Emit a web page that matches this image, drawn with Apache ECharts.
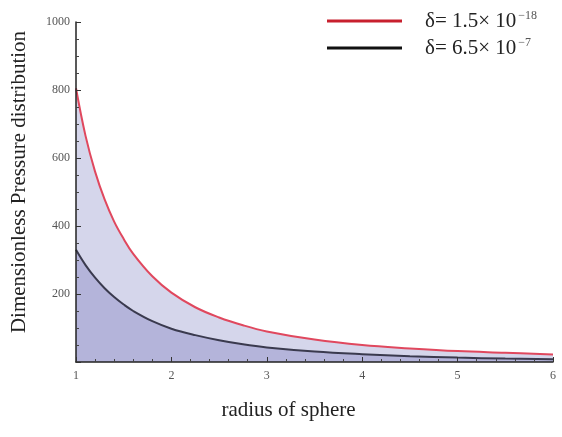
<!DOCTYPE html>
<html>
<head>
<meta charset="utf-8">
<script src="https://cdn.jsdelivr.net/npm/echarts@6/dist/echarts.min.js"></script>
<style>
  html, body { margin: 0; padding: 0; background: #fff; }
  #chart { width: 562px; height: 437px; }
</style>
</head>
<body>
<div id="chart"></div>
<script>
// Radius samples and dimensionless pressure for the two film thicknesses
const radius = [1, 1.1, 1.2, 1.3, 1.4, 1.5, 1.6, 1.8, 2.0, 2.25, 2.5, 2.75, 3, 3.5, 4, 4.5, 5, 5.5, 6];
const pressureSmall = [805, 665, 560, 478, 413, 362, 318, 252, 204, 161, 131, 108, 90, 66, 50, 40, 32, 27, 22];
const pressureLarge = [330, 285, 248, 217, 191, 169, 150, 120, 98, 79, 64, 52, 43, 31, 23, 17, 13, 10, 8];
const yTicks = [200, 400, 600, 800, 1000];
const seriesNames = ['small', 'large'];

const pairs = (xs, ys) => xs.map((x, i) => [x, ys[i]]);

const serif = '"Liberation Serif", "DejaVu Serif", serif';

// one legend box per curve so each row can be placed on its own
function legendBox(name, top, label, sup) {
  return {
    orient: 'vertical',
    left: 322,
    top: top,
    itemWidth: 75,
    itemHeight: 3,
    icon: 'rect',
    data: [name],
    formatter: () => '{t|' + label + '}{s|' + sup + '}',
    textStyle: {
      padding: [0, 0, 0, 18],
      rich: {
        t: { fontFamily: serif, fontSize: 21, color: '#222', lineHeight: 22 },
        s: { fontFamily: serif, fontSize: 12, color: '#555', verticalAlign: 'top', padding: [0, 0, 10, 2] }
      }
    }
  };
}

const chart = echarts.init(document.getElementById('chart'), null, { renderer: 'canvas' });

chart.setOption({
  animation: false,
  backgroundColor: '#ffffff',
  grid: { left: 76, right: 9, top: 22, bottom: 75, containLabel: false },
  legend: [
    legendBox(seriesNames[0], 5, 'δ= 1.5× 10', '−18'),
    legendBox(seriesNames[1], 32, 'δ= 6.5× 10', '−7')
  ],
  xAxis: {
    type: 'value',
    min: 1,
    max: 6,
    interval: 1,
    z: 10,
    name: 'radius of sphere',
    nameLocation: 'middle',
    nameGap: 38,
    nameTextStyle: { fontFamily: serif, fontSize: 21, color: '#222', padding: [0, 52, 0, 0] },
    axisLine: { show: true, onZero: false, lineStyle: { color: '#222', width: 1.5 } },
    axisTick: { show: true, inside: true, length: 5, lineStyle: { color: '#333' } },
    minorTick: { show: true, splitNumber: 5, length: 3, lineStyle: { color: '#444' } },
    splitLine: { show: false },
    axisLabel: { fontFamily: serif, fontSize: 12, color: '#555', margin: 8 }
  },
  yAxis: {
    type: 'value',
    min: 0,
    max: 1000,
    interval: 200,
    z: 10,
    name: 'Dimensionless Pressure distribution',
    nameLocation: 'middle',
    nameGap: 46,
    nameTextStyle: { fontFamily: serif, fontSize: 21, color: '#222', padding: [0, 0, 0, 20] },
    axisLine: { show: true, lineStyle: { color: '#222', width: 1.5 } },
    axisTick: { show: true, inside: true, length: 5, lineStyle: { color: '#333' } },
    minorTick: { show: true, splitNumber: 4, length: 3, lineStyle: { color: '#444' } },
    splitLine: { show: false },
    axisLabel: {
      fontFamily: serif, fontSize: 12, color: '#555', margin: 6,
      formatter: v => (yTicks.indexOf(v) >= 0 ? String(v) : '')
    }
  },
  series: [
    {
      name: seriesNames[0],
      type: 'line',
      smooth: 0.4,
      showSymbol: false,
      data: pairs(radius, pressureSmall),
      lineStyle: { color: '#e0485e', width: 2 },
      itemStyle: { color: '#c8202e' },
      areaStyle: { color: '#d5d6eb', opacity: 1 },
      z: 2
    },
    {
      name: seriesNames[1],
      type: 'line',
      smooth: 0.4,
      showSymbol: false,
      data: pairs(radius, pressureLarge),
      lineStyle: { color: '#3a3a4e', width: 2 },
      itemStyle: { color: '#111111' },
      areaStyle: { color: '#b4b4da', opacity: 1 },
      z: 3
    }
  ]
});
</script>
</body>
</html>
